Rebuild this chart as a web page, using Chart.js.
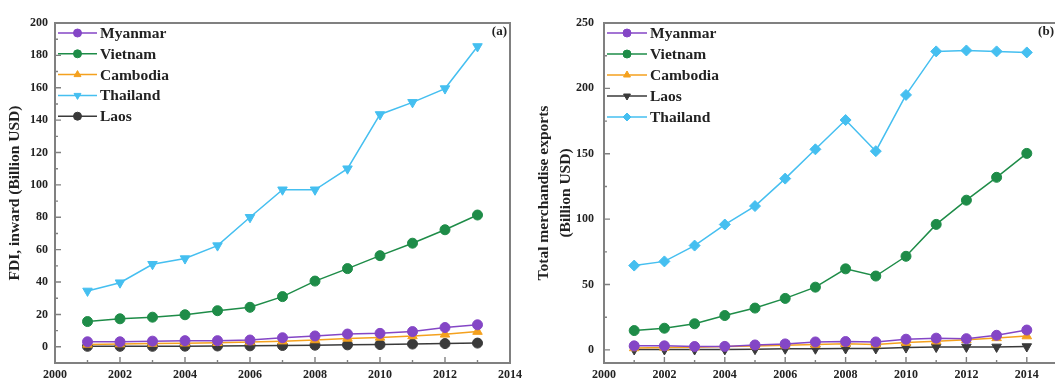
<!DOCTYPE html>
<html>
<head>
<meta charset="utf-8">
<script src="https://cdn.jsdelivr.net/npm/chart.js@4/dist/chart.umd.min.js"></script>
<style>
  html, body { margin: 0; padding: 0; background: #fff; overflow: hidden; width: 1055px; height: 382px; }
  #wa { position: absolute; left: 0; top: 0; }
  #wb { position: absolute; left: 527px; top: 0; }
  canvas { display: block; }
</style>
</head>
<body>
<div id="wa"><canvas id="fdi" width="527" height="382" style="width:527px;height:382px"></canvas></div>
<div id="wb"><canvas id="exp" width="540" height="382" style="width:540px;height:382px"></canvas></div>
<script>
// ---- Panel (a): FDI, inward (Billion USD), 2001-2013 ----
const yearsA = [2001, 2002, 2003, 2004, 2005, 2006, 2007, 2008, 2009, 2010, 2011, 2012, 2013];
const fdiMyanmar  = [3.1, 3.1, 3.5, 3.8, 3.8, 4.2, 5.6, 6.7, 7.9, 8.3, 9.4, 11.9, 13.6];
const fdiVietnam  = [15.6, 17.3, 18.3, 19.8, 22.3, 24.4, 31.0, 40.6, 48.3, 56.3, 64.0, 72.3, 81.4];
const fdiCambodia = [1.5, 1.7, 2.0, 2.2, 2.5, 3.0, 3.5, 4.2, 5.2, 5.8, 6.7, 7.7, 9.4];
const fdiThailand = [34.5, 39.6, 51.0, 54.5, 62.5, 80.0, 97.0, 97.0, 110.0, 143.5, 151.0, 159.5, 185.5];
const fdiLaos     = [0.3, 0.3, 0.3, 0.4, 0.5, 0.6, 0.8, 1.0, 1.2, 1.4, 1.7, 2.0, 2.3];
const xTicksA = [2000, 2002, 2004, 2006, 2008, 2010, 2012, 2014];
const yTicksA = [0, 20, 40, 60, 80, 100, 120, 140, 160, 180, 200];

// ---- Panel (b): Total merchandise exports (Billion USD), 2001-2014 ----
const yearsB = [2001, 2002, 2003, 2004, 2005, 2006, 2007, 2008, 2009, 2010, 2011, 2012, 2013, 2014];
const expMyanmar  = [3.1, 3.1, 2.6, 2.7, 3.8, 4.6, 6.1, 6.4, 6.1, 8.2, 9.0, 8.6, 11.2, 15.2];
const expVietnam  = [14.8, 16.6, 20.0, 26.3, 32.0, 39.4, 48.0, 62.0, 56.5, 71.6, 96.0, 114.5, 132.0, 150.3];
const expCambodia = [1.5, 1.9, 2.1, 2.6, 3.0, 3.6, 4.1, 4.7, 4.2, 5.6, 6.7, 7.8, 9.2, 10.6];
const expLaos     = [0.3, 0.3, 0.3, 0.4, 0.6, 0.9, 0.9, 1.1, 1.1, 1.8, 2.2, 2.3, 2.3, 2.6];
const expThailand = [64.5, 67.7, 79.8, 95.9, 110.0, 131.0, 153.4, 175.8, 152.0, 195.0, 228.3, 229.0, 228.3, 227.5];
const xTicksB = [2000, 2002, 2004, 2006, 2008, 2010, 2012, 2014];
const yTicksB = [0, 50, 100, 150, 200, 250];

const COLORS = {
  Myanmar: '#8446c6',
  Vietnam: '#1e8c48',
  Cambodia: '#f4a11e',
  Thailand: '#45bff0',
  Laos: '#3a3a3a'
};
const SERIF = '"Liberation Serif", "Times New Roman", serif';

// style: point shape; rot: marker rotation in degrees (180 = downward triangle)
function series(label, years, values, style, radius, rot) {
  return {
    label,
    data: years.map((yr, i) => ({ x: yr, y: values[i] })),
    borderColor: COLORS[label],
    backgroundColor: COLORS[label],
    pointBackgroundColor: COLORS[label],
    pointBorderColor: COLORS[label],
    pointStyle: style,
    pointRotation: rot || 0,
    pointRadius: radius,
    pointBorderWidth: 1,
    borderWidth: 1.5,
    tension: 0
  };
}

// Frame, inward tick marks, inset legend and panel tag
const deco = {
  id: 'deco',
  afterDatasetsDraw(chart, args, opts) {
    const { ctx, chartArea: a, scales: { x, y } } = chart;
    ctx.save();
    ctx.strokeStyle = '#808080';
    ctx.lineWidth = 1.4;
    ctx.beginPath();
    const xv = x.ticks.map(t => t.value);
    xv.forEach((v, i) => {
      const px = x.getPixelForValue(v);
      ctx.moveTo(px, a.bottom); ctx.lineTo(px, a.bottom - 6);
      if (i < xv.length - 1) {
        const pm = x.getPixelForValue((v + xv[i + 1]) / 2);
        ctx.moveTo(pm, a.bottom); ctx.lineTo(pm, a.bottom - 3);
      }
    });
    const yv = y.ticks.map(t => t.value);
    yv.forEach((v, i) => {
      const py = y.getPixelForValue(v);
      ctx.moveTo(a.left, py); ctx.lineTo(a.left + 6, py);
      if (i < yv.length - 1) {
        const pm = y.getPixelForValue((v + yv[i + 1]) / 2);
        ctx.moveTo(a.left, pm); ctx.lineTo(a.left + 3, pm);
      }
    });
    ctx.stroke();
    ctx.lineWidth = 2;
    ctx.strokeRect(a.left, a.top, a.right - a.left, a.bottom - a.top);

    // panel tag
    ctx.fillStyle = '#222';
    ctx.font = 'bold 13px ' + SERIF;
    ctx.textAlign = 'right';
    ctx.textBaseline = 'middle';
    ctx.fillText(opts.tag, a.right - 3, a.top + 9);

    // legend
    ctx.textAlign = 'left';
    ctx.font = 'bold 15.5px ' + SERIF;
    chart.data.datasets.forEach((ds, i) => {
      const yy = opts.top + i * opts.step;
      const x0 = a.left + opts.lx0, x1 = a.left + opts.lx1;
      ctx.strokeStyle = ds.borderColor;
      ctx.lineWidth = 1.5;
      ctx.beginPath(); ctx.moveTo(x0, yy); ctx.lineTo(x1, yy); ctx.stroke();
      ctx.fillStyle = ds.backgroundColor;
      ctx.lineWidth = 1;
      Chart.helpers.drawPoint(ctx, { pointStyle: ds.pointStyle, radius: 4, borderWidth: 1, rotation: ds.pointRotation }, (x0 + x1) / 2, yy);
      ctx.fillStyle = '#222';
      ctx.fillText(ds.label, a.left + opts.tx, yy + 1);
    });
    ctx.restore();
  }
};

function makeChart(id, datasets, cfg) {
  return new Chart(document.getElementById(id), {
    type: 'line',
    data: { datasets },
    plugins: [deco],
    options: {
      responsive: false,
      devicePixelRatio: 1,
      animation: false,
      layout: { padding: { top: 23, right: cfg.padRight, left: 0, bottom: 0 } },
      plugins: {
        legend: { display: false },
        tooltip: { enabled: false },
        deco: cfg.deco
      },
      scales: {
        x: {
          type: 'linear',
          min: 2000,
          max: cfg.xMax,
          afterBuildTicks: s => { s.ticks = cfg.xTicks.map(v => ({ value: v })); },
          afterFit: s => { s.height = 19; },
          grid: { display: false, drawTicks: false },
          border: { display: false },
          ticks: {
            autoSkip: false, maxRotation: 0, padding: 5,
            color: '#222',
            font: { family: SERIF, size: 12, weight: 'bold' },
            callback: v => String(v)
          }
        },
        y: {
          type: 'linear',
          min: cfg.yMin,
          max: cfg.yMax,
          afterBuildTicks: s => { s.ticks = cfg.yTicks.map(v => ({ value: v })); },
          afterFit: s => { s.width = cfg.yWidth; },
          grid: { display: false, drawTicks: false },
          border: { display: false },
          ticks: {
            padding: cfg.yPad,
            color: '#222',
            font: { family: SERIF, size: 12, weight: 'bold' },
            callback: v => String(v)
          },
          title: {
            display: true,
            text: cfg.yTitle,
            color: '#222',
            font: { family: SERIF, size: 15.5, weight: 'bold', lineHeight: cfg.titleLH },
            padding: { top: cfg.titlePad, bottom: 0 }
          }
        }
      }
    }
  });
}

makeChart('fdi', [
  series('Myanmar', yearsA, fdiMyanmar, 'circle', 5),
  series('Vietnam', yearsA, fdiVietnam, 'circle', 5),
  series('Cambodia', yearsA, fdiCambodia, 'triangle', 5.5),
  series('Thailand', yearsA, fdiThailand, 'triangle', 5.5, 180),
  series('Laos', yearsA, fdiLaos, 'circle', 5)
], {
  padRight: 17, xMax: 2014, xTicks: xTicksA,
  yMin: -10, yMax: 200, yTicks: yTicksA, yWidth: 55, yPad: 7,
  yTitle: 'FDI, inward (Billion USD)', titleLH: 1.2, titlePad: 6,
  deco: { tag: '(a)', top: 33, step: 20.8, lx0: 3, lx1: 42, tx: 45 }
});

makeChart('exp', [
  series('Myanmar', yearsB, expMyanmar, 'circle', 5),
  series('Vietnam', yearsB, expVietnam, 'circle', 5),
  series('Cambodia', yearsB, expCambodia, 'triangle', 5.5),
  series('Laos', yearsB, expLaos, 'triangle', 5.5, 180),
  series('Thailand', yearsB, expThailand, 'rectRot', 5.5)
], {
  padRight: 10, xMax: 2015, xTicks: xTicksB,
  yMin: -10, yMax: 250, yTicks: yTicksB, yWidth: 77, yPad: 10,
  yTitle: ['Total merchandise exports', '(Billion USD)'], titleLH: 1.4, titlePad: 6,
  deco: { tag: '(b)', top: 33, step: 21, lx0: 3, lx1: 43, tx: 46 }
});
</script>
</body>
</html>
